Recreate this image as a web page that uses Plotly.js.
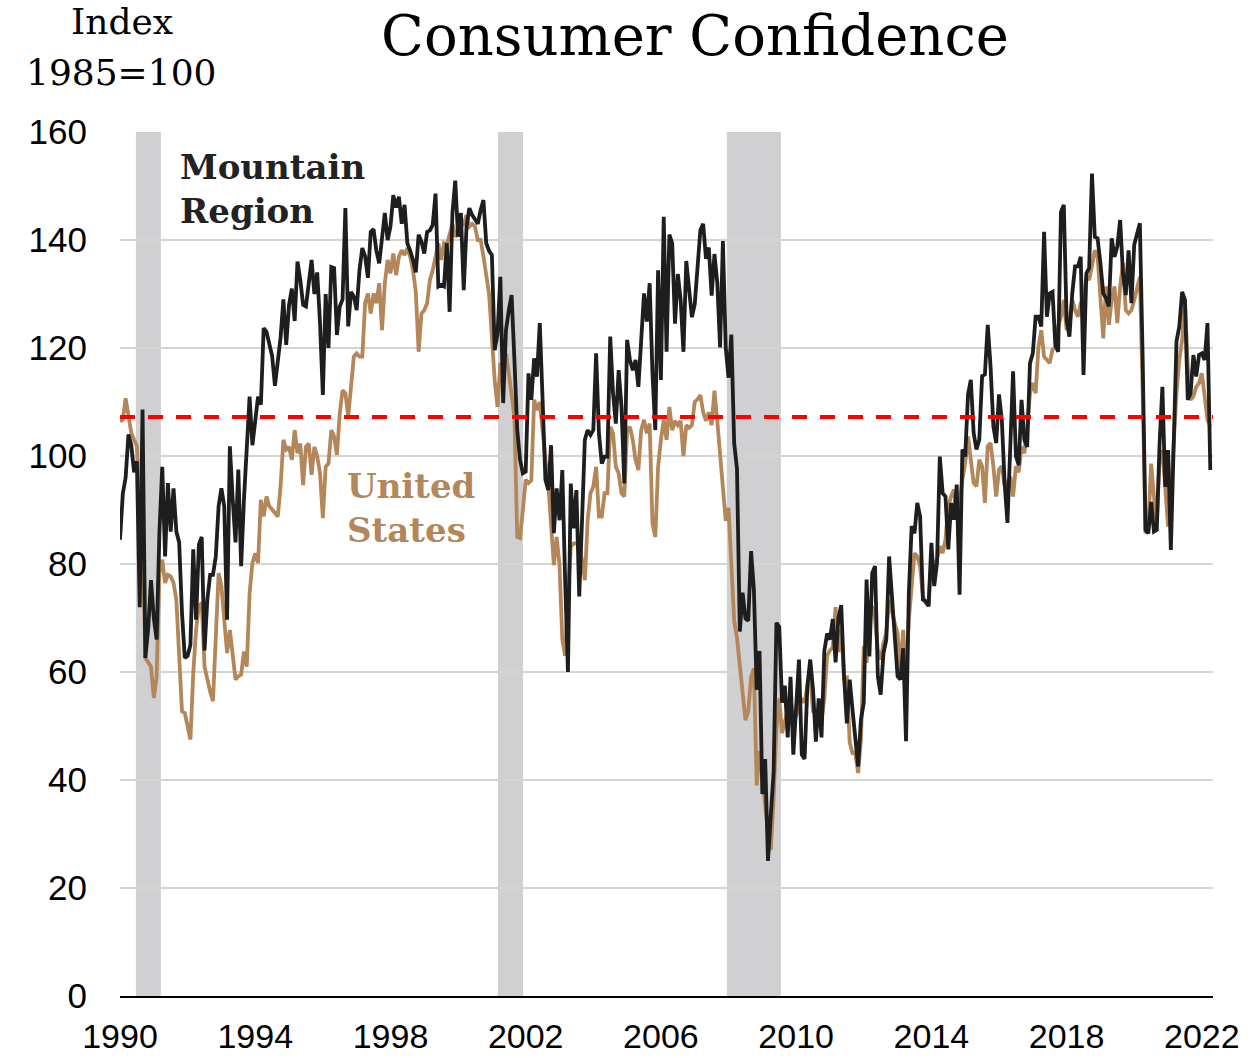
<!DOCTYPE html>
<html><head><meta charset="utf-8">
<script src="https://cdn.plot.ly/plotly-3.0.1.min.js"></script>
<style>html,body{margin:0;padding:0;background:#fff;}#chart{width:1251px;height:1058px;}</style>
</head><body><div id="chart"></div>
<script>
// Monthly index values (1985=100), January 1990 onward
const startYear = 1990;
const mountainRegion = [
  84.5, 93, 96, 104, 102, 97, 99, 72, 108.6, 62.6, 68, 77,
  70, 66, 86, 98, 81.4, 95, 86, 94, 86, 84, 71, 62.6,
  63, 65, 82.7, 69.7, 83.6, 85, 64, 73.4, 78, 78, 81.4, 90.7,
  94, 90.7, 69.7, 101.8, 92, 84, 97.5, 79.6, 92, 102.4, 111, 102,
  106.7, 111, 109.5, 123.7, 123, 121, 118.5, 113, 117, 122, 129, 120.6,
  128, 131, 125, 136, 132.6, 128, 127.7, 132.6, 136.3, 130, 134, 124.6,
  111.3, 130, 120, 135, 134.8, 122.4, 127.7, 129, 145.9, 124, 130.4, 129.5,
  127, 134.4, 138.5, 137, 133, 141.5, 142, 138, 135.7, 140.3, 145, 140,
  142.5, 148.3, 146, 148, 143, 146.5, 139.4, 138, 136.3, 134, 141, 139.7,
  137.5, 141.5, 141.8, 142.8, 148.6, 131.4, 131.7, 131.4, 139.4, 126.7, 145, 151,
  140.6, 145, 130.7, 142.5, 145.9, 144.6, 143.7, 143, 145.5, 147.4, 139.4, 138,
  137.2, 119.6, 122.7, 133.2, 109.8, 123.3, 127, 129.8, 117.8, 104.8, 99.3, 96.8,
  97.1, 115.3, 110.4, 118.1, 114.7, 124.6, 110.4, 95.6, 93.7, 102, 85.7, 94,
  88.1, 97.4, 77, 60, 94.9, 86.6, 93.7, 74, 88.1, 103, 104.8, 103.9,
  104.8, 119, 104.2, 98.6, 99.9, 99.9, 122.1, 111.6, 106, 115.9, 109.1, 94.9,
  121.5, 117.8, 115.9, 117.8, 112.8, 122.7, 130.1, 124.9, 132, 115.3, 104.8, 134.4,
  114.1, 144.3, 119.3, 141, 139.4, 124.5, 133.7, 128.9, 119.3, 136.1, 130.5, 125.7,
  128.1, 134.5, 141.8, 143, 136.5, 138.6, 129.7, 137.4, 132.1, 120.1, 139.8, 120.1,
  114.5, 122.5, 102.4, 97.6, 67.5, 74.7, 69.9, 69.5, 82.4, 75.2, 56.7, 63.9,
  37.4, 43.9, 25, 33.5, 41.4, 69.1, 68.3, 54.3, 57.5, 47.9, 59.1, 44.7,
  53.5, 62.3, 44.7, 43.9, 57.5, 62.3, 56.7, 47.1, 55.1, 47.9, 63.9, 67.1,
  66, 69.8, 61.8, 70, 72.4, 59.2, 50.5, 58.6, 53, 46.9, 42.5, 51.2,
  54.3, 77.1, 62.9, 78.3, 79.6, 59.2, 55.8, 63.5, 66, 81.4, 73.4, 67.8,
  59.2, 58.6, 64.4, 47.2, 74.6, 87, 85.7, 91.3, 88.8, 73.4, 73.1, 72.2,
  83.9, 75.9, 80.2, 99.9, 93.1, 92.5, 82.7, 91.3, 88.2, 94.7, 74.3, 101.2,
  99.9, 111.4, 114.1, 104.3, 101.2, 103, 114.8, 115.1, 124.3, 116.6, 105.5, 102.4,
  111.4, 106.7, 95, 87.6, 101.8, 115.7, 100, 98.3, 110.4, 103, 101.7, 117.2,
  119, 125.8, 125.8, 124, 141.5, 125.8, 130.1, 130.4, 120.6, 119.3, 145.2, 146.5,
  125.2, 122.1, 130.1, 135.1, 135.1, 136.9, 115, 133.8, 134.8, 152.3, 140.6, 140.3,
  135.7, 130.1, 129.2, 127.7, 140.3, 136.9, 138.8, 143.7, 133.8, 129.8, 138.1, 128.3,
  139.1, 141.5, 143.1, 118, 86.3, 85.7, 91.5, 86, 86.3, 102.3, 112.8, 94.3,
  101.1, 82.6, 102.3, 121.2, 124, 130.4, 128.9, 110.4, 111.6, 118.7, 114.7, 118.7,
  119, 117.8, 124.6, 97.4
];
const unitedStates = [
  106.4, 106.7, 110.7, 107, 104.3, 103, 101.8, 86, 86, 62.6, 61.7, 61,
  55.2, 59.2, 78.3, 80.8, 76.5, 78, 77.7, 76.5, 73.4, 64.1, 52.7, 52.4,
  49.9, 47.5, 59.8, 67.8, 72.2, 72.8, 61, 58.3, 56.4, 54.6, 67.2, 78.3,
  75.9, 69.7, 63.5, 67.8, 63.5, 58.6, 59.2, 59.5, 63.8, 61, 74.6, 80.2,
  82, 80.2, 91.9, 88.8, 92.5, 90.7, 90.1, 89.5, 88.8, 94.4, 103, 101.2,
  101.7, 99.3, 104.8, 100.5, 102.3, 94.6, 101.7, 102.3, 96.5, 101.7, 99.9, 96.8,
  88.5, 98, 98.6, 104.8, 103.6, 100.2, 107.9, 112.2, 111.6, 107.3, 112.2, 118.4,
  119, 118.4, 118.4, 128.3, 130.1, 126.4, 130.1, 128.3, 132, 123.3, 132, 136.3,
  133.8, 137.5, 133.5, 136.9, 138.1, 137.2, 138.5, 136.9, 134.4, 130.4, 119.3, 126.4,
  127, 128.3, 132.6, 134.4, 136.9, 139.4, 136.3, 139.4, 139.1, 141.2, 143, 140.6,
  141.2, 142.5, 143, 144.6, 142.5, 143, 142.5, 140, 140, 137, 133, 130,
  122, 114, 109.1, 117.2, 116.5, 119, 115.3, 111, 107.3, 85, 84.8, 90,
  95.6, 95, 95.5, 110.4, 108.5, 110, 104.2, 99.3, 95, 88, 79.8, 85,
  79.8, 66, 63, 74, 83.2, 83.8, 83.8, 83.8, 80.7, 77, 88.1, 93.1,
  94.3, 98, 88.8, 88.8, 93.1, 93.1, 105.4, 104.2, 98, 96.8, 93.1, 92.5,
  104.8, 105.4, 103, 99.3, 97.4, 104.8, 106.7, 104.2, 106, 87.5, 85, 98,
  103, 106.7, 103, 109.1, 104.8, 106.5, 105.7, 106.5, 100, 105.7, 105.2, 105.7,
  110, 110.5, 111.3, 108.1, 106.5, 108.1, 105.7, 112.1, 106.5, 100, 95.2, 88,
  90.4, 80, 69.5, 66.3, 60.7, 55.9, 51.1, 52.7, 59.1, 60.7, 39, 45.4,
  39.8, 35.8, 30.2, 27, 36.6, 49.5, 55.1, 48.7, 51.1, 52.7, 55.1, 51.1,
  51.9, 53.5, 55.1, 54.3, 57.5, 59.1, 52.7, 52.3, 51.9, 51.1, 55.1, 63.1,
  64, 64.5, 72, 63.7, 68, 58.8, 59, 47, 45, 45, 41.3, 47.5,
  64.8, 61.7, 69.7, 72.2, 69.7, 64.1, 62.3, 65.4, 67.2, 73.4, 70.9, 69,
  67.2, 60.4, 67.8, 58.6, 69.7, 76.5, 82, 81.4, 79.6, 74, 72.8, 72.2,
  81.4, 79.6, 80.8, 83.3, 82, 84.5, 90.7, 92.5, 93.8, 89.4, 91.3, 95.6,
  98.7, 103.6, 98.7, 95, 94.4, 99.3, 98.1, 91.3, 101.8, 102.4, 98.1, 92.5,
  97.5, 98.1, 94.4, 95, 96.2, 92.5, 98.1, 97, 101.7, 100.5, 105.4, 111.6,
  113.5, 111.6, 120.2, 123.3, 118.4, 117.8, 117.2, 119.7, 120.2, 124, 125.8, 128.9,
  123.3, 125.2, 128.9, 127, 125.8, 128.3, 128.9, 133.2, 132.6, 135.1, 138.1, 136.9,
  130, 121.8, 131.4, 124.3, 128.9, 131.4, 124.6, 131.4, 135.7, 127, 126.4, 127,
  128.9, 131.4, 133.2, 112, 85.7, 86.9, 98.6, 92.5, 87.5, 99.3, 101.1, 94.3,
  86.9, 93.1, 103.6, 111.6, 117.8, 121.5, 128.9, 116.5, 110.4, 111, 112.8, 113.5,
  115.3, 111.6, 106.7, 105.4
];
const recessionStart = [1990.47, 2001.18, 2007.95];
const recessionEnd = [1991.21, 2001.92, 2009.55];
const referenceLevel = 107.2;
const yearTicks = [1990, 1994, 1998, 2002, 2006, 2010, 2014, 2018, 2022];
const yTicks = [0, 20, 40, 60, 80, 100, 120, 140, 160];
const labelMountain = 'Mountain<br>Region';
const labelUS = 'United<br>States';

const months = mountainRegion.map((_, i) => startYear + i / 12);

const BLACK = '#1e1e1e';
const TAN = '#b3875a';
const SERIF = 'DejaVu Serif, Georgia, serif';
const SANS = 'Liberation Sans, Arial, sans-serif';

const traces = [
  {x: months, y: unitedStates, type: 'scatter', mode: 'lines', name: 'United States',
   line: {color: TAN, width: 3.8}, hoverinfo: 'skip'},
  {x: months, y: mountainRegion, type: 'scatter', mode: 'lines', name: 'Mountain Region',
   line: {color: BLACK, width: 3.8}, hoverinfo: 'skip'}
];

const shapes = recessionStart.map((s, i) => ({
  type: 'rect', xref: 'x', yref: 'paper', x0: s, x1: recessionEnd[i], y0: 0, y1: 1,
  fillcolor: '#d0cfd2', line: {width: 0}, layer: 'below'
}));
shapes.push({type: 'line', xref: 'paper', yref: 'y', x0: 0, x1: 1, y0: referenceLevel, y1: referenceLevel,
  line: {color: '#ff0000', width: 4, dash: '15px,13px'}, layer: 'above'});

const layout = {
  width: 1251, height: 1058,
  margin: {l: 120, r: 38, t: 132, b: 62, pad: 0},
  paper_bgcolor: '#fff', plot_bgcolor: '#fff',
  showlegend: false,
  title: {text: 'Consumer Confidence', font: {family: SERIF, size: 56, color: '#000'},
    xref: 'container', yref: 'container', x: 695 / 1251, xanchor: 'center', y: 1 - 35 / 1058, yanchor: 'middle'},
  xaxis: {range: [1990, 2022.33], tickvals: yearTicks, ticktext: yearTicks.map(String),
    showgrid: false, zeroline: false, showline: true, linecolor: '#000', linewidth: 1.5,
    ticks: '', ticklabelstandoff: 10, tickfont: {family: SANS, size: 34, color: '#000'}, fixedrange: true},
  yaxis: {range: [0, 160], tickvals: yTicks, ticktext: yTicks.map(String),
    showgrid: true, gridcolor: '#d4d4d4', gridwidth: 1.5, zeroline: false, showline: false,
    ticks: '', ticklabelstandoff: 32, tickfont: {family: SANS, size: 35, color: '#000'}, fixedrange: true},
  shapes: shapes,
  annotations: [
    {text: 'Index', xref: 'paper', yref: 'paper', x: (122 - 120) / 1093, y: (996 - 22) / 864,
     xanchor: 'center', yanchor: 'middle', showarrow: false, font: {family: SERIF, size: 36, color: '#000'}},
    {text: '1985=100', xref: 'paper', yref: 'paper', x: (121 - 120) / 1093, y: (996 - 72) / 864,
     xanchor: 'center', yanchor: 'middle', showarrow: false, font: {family: SERIF, size: 36, color: '#000'}},
    {text: '<b>' + labelMountain + '</b>', xref: 'paper', yref: 'paper', x: (178 - 120) / 1093, y: (996 - 189) / 864,
     xanchor: 'left', yanchor: 'middle', align: 'left', showarrow: false, font: {family: SERIF, size: 34, color: '#222'}},
    {text: '<b>' + labelUS + '</b>', xref: 'paper', yref: 'paper', x: (345 - 120) / 1093, y: (996 - 508) / 864,
     xanchor: 'left', yanchor: 'middle', align: 'left', showarrow: false, font: {family: SERIF, size: 34, color: TAN}}
  ]
};

Plotly.newPlot('chart', traces, layout, {displayModeBar: false, staticPlot: true});
</script>
</body></html>
